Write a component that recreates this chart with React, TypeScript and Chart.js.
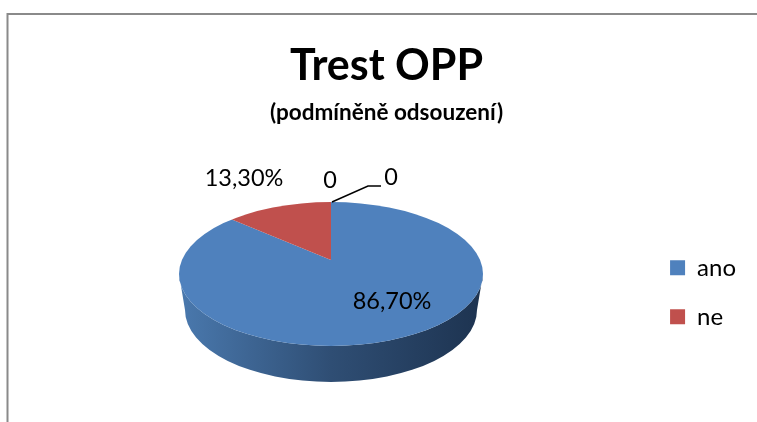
import React, { useEffect, useRef } from "react";
import { Chart, registerables } from "chart.js";

Chart.register(...registerables);

const categories = ["ano", "ne", "", ""];
const values = [86.7, 13.3, 0, 0];
const valueLabels = ["86,70%", "13,30%", "0", "0"];
const colors = ["#4F81BD", "#C0504D", "#9BBB59", "#8064A2"];
const titleText = "Trest OPP";
const subtitleText = "(podmíněně odsouzení)";

const FONT = "Lato, Carlito, 'Open Sans', sans-serif";

// pie projection
const RX = 152;
const RY = 72;
const EX = 331;
const EY = 274;
const APEX_Y = 260;
const SCALE_Y = 0.452;
const DEPTH = 36;

const labelPos = [
  { x: 392, y: 301 },
  { x: 244, y: 178 },
  { x: 330, y: 180 },
  { x: 391, y: 177 },
];

const piePlugin = {
  id: "tiltedPie",
  beforeDatasetsDraw(chart: any) {
    const ctx = chart.ctx;
    const arc = chart.getDatasetMeta(0).data[0];
    ctx.save();
    // extruded side
    const g = ctx.createLinearGradient(EX - RX, 0, EX + RX, 0);
    g.addColorStop(0, "#4A79AE");
    g.addColorStop(0.5, "#2F4E74");
    g.addColorStop(1, "#1D3350");
    ctx.fillStyle = g;
    ctx.beginPath();
    ctx.ellipse(EX, EY, RX, RY, 0, Math.PI, 0, true);
    ctx.lineTo(EX + RX - 6, EY + DEPTH);
    ctx.ellipse(EX, EY + DEPTH, RX - 6, RY, 0, 0, Math.PI, false);
    ctx.closePath();
    ctx.fill();
    // top face: clip to ellipse, then squash the library's arcs about their centre
    ctx.beginPath();
    ctx.ellipse(EX, EY, RX, RY, 0, 0, Math.PI * 2);
    ctx.clip();
    ctx.translate(EX, APEX_Y);
    ctx.scale(1, SCALE_Y);
    ctx.translate(-arc.x, -arc.y);
  },
  afterDatasetsDraw(chart: any) {
    const ctx = chart.ctx;
    ctx.restore();
    ctx.save();
    // leader line
    ctx.strokeStyle = "#000";
    ctx.lineWidth = 1.5;
    ctx.beginPath();
    ctx.moveTo(EX + 1, EY - RY);
    ctx.lineTo(368, 186);
    ctx.lineTo(381, 186);
    ctx.stroke();
    // value labels
    ctx.fillStyle = "#000";
    ctx.font = `23.5px ${FONT}`;
    ctx.textAlign = "center";
    ctx.textBaseline = "middle";
    valueLabels.forEach((t, i) => ctx.fillText(t, labelPos[i].x, labelPos[i].y));
    ctx.restore();
  },
};

const framePlugin = {
  id: "frame",
  beforeDraw(chart: any) {
    const ctx = chart.ctx;
    ctx.save();
    ctx.strokeStyle = "#8A8A8A";
    ctx.lineWidth = 2;
    ctx.beginPath();
    ctx.moveTo(7.5, chart.height);
    ctx.lineTo(7.5, 14);
    ctx.lineTo(chart.width, 14);
    ctx.stroke();
    ctx.restore();
  },
};

export default function App() {
  const ref = useRef<HTMLCanvasElement | null>(null);
  useEffect(() => {
    document.body.style.margin = "0";
    const chart = new Chart(ref.current as HTMLCanvasElement, {
      type: "pie",
      data: {
        labels: categories,
        datasets: [
          {
            data: values,
            backgroundColor: colors,
            borderWidth: 0,
            radius: 260,
          },
        ],
      },
      options: {
        responsive: false,
        animation: false,
        rotation: 0,
        layout: { padding: { top: 40, right: 11, bottom: 10, left: 27 } },
        plugins: {
          title: {
            display: true,
            text: titleText,
            color: "#000",
            font: { family: FONT, size: 43, weight: "bold" },
            padding: { top: 0, bottom: 8 },
          },
          subtitle: {
            display: true,
            text: subtitleText,
            color: "#000",
            font: { family: FONT, size: 22.5, weight: "bold" },
            padding: { top: 0, bottom: 46 },
          },
          legend: {
            position: "right",
            fullSize: false,
            labels: {
              boxWidth: 15,
              boxHeight: 15,
              padding: 25,
              color: "#000",
              font: { family: FONT, size: 24 },
              filter: (item: any) => item.text !== "",
            },
          },
          tooltip: { enabled: false },
        },
      },
      plugins: [framePlugin, piePlugin],
    } as any);
    return () => chart.destroy();
  }, []);
  return <canvas ref={ref} width={757} height={422} style={{ display: "block" }} />;
}
